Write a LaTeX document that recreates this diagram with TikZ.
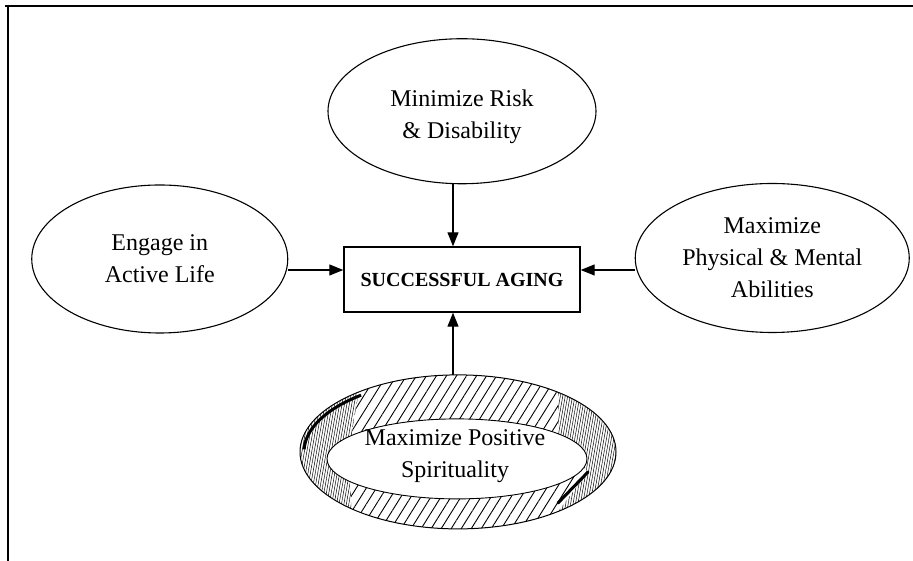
\documentclass[tikz,border=0pt]{standalone}
\usepackage{fontspec}
\setmainfont{Liberation Serif}
\usetikzlibrary{positioning,shapes.geometric,arrows.meta,patterns.meta}

\tikzset{
  goal/.style={draw, ellipse, line width=1.1pt, inner sep=0pt, align=center, font=\fontsize{24}{32}\selectfont},
  core/.style={draw, rectangle, line width=1.4pt, minimum width=236pt, minimum height=65pt, font=\fontsize{20}{24}\selectfont\bfseries},
  arr/.style={line width=1.1pt, -{Triangle[length=14pt,width=11pt]}},
  hatch/.style={pattern={Lines[angle=58,distance=8.5pt,line width=0.9pt]}},
  densehatch/.style={pattern={Lines[angle=80,distance=2.4pt,line width=0.5pt]}},
}

\begin{document}
\begin{tikzpicture}[x=1pt,y=1pt]
    \useasboundingbox (0,0) rectangle (913,561);
    % frame
    \draw[line width=1.6pt] (5,555) -- (915,555);
    \draw[line width=1.2pt] (8,-2) -- (8,555);

    \node[core] (aging) at (462,281.5) {SUCCESSFUL AGING};
    \node[goal, minimum width=268pt, minimum height=145pt, above=62pt of aging] (risk) {\rule{0pt}{28pt}Minimize Risk\\\& Disability};
    \node[goal, minimum width=256pt, minimum height=148pt, left=55pt of aging, yshift=20.5pt] (life) {Engage in\\Active Life};
    \node[goal, minimum width=274pt, minimum height=149pt, right=54pt of aging, yshift=21.5pt] (abil) {Maximize\\Physical \& Mental\\Abilities};

    % twisted band
    \node[ellipse, minimum width=316pt, minimum height=154pt, inner sep=0pt, below=62pt of aging, xshift=-4pt] (spirit) {};
    \node[ellipse, minimum width=260pt, minimum height=80pt, inner sep=0pt] (hole) at ([xshift=-1pt,yshift=-7pt]spirit.center) {};
    \path[hatch, even odd rule] (spirit.center) ellipse [x radius=158, y radius=77] (hole.center) ellipse [x radius=130, y radius=40];
    \begin{scope}[even odd rule]
        \clip (spirit.center) ellipse [x radius=158, y radius=77] (hole.center) ellipse [x radius=130, y radius=40];
        \fill[white] (558,200) -- (640,200) -- (640,20) -- (536,20) -- (588,89) -- (558,118) -- cycle;
        \path[densehatch] (558,200) -- (640,200) -- (640,20) -- (536,20) -- (588,89) -- (558,118) -- cycle;
        \fill[white] (364,200) -- (280,200) -- (280,20) -- (352,20) -- (350,100) -- (352,130) -- cycle;
        \path[densehatch] (364,200) -- (280,200) -- (280,20) -- (352,20) -- (350,100) -- (352,130) -- cycle;
        \draw[line width=3pt, line cap=round] (588,89) -- (558,58);
        \draw[line width=3pt] ([shift={(129:154 and 73)}]spirit.center) arc[start angle=129, end angle=178, x radius=154, y radius=73];
    \end{scope}
    \draw[line width=1pt] (spirit.center) ellipse [x radius=158, y radius=77];
    \draw[line width=0.9pt] (hole.center) ellipse [x radius=130, y radius=40];
    \node[align=center, font=\fontsize{24}{32}\selectfont] (spirittext) at ([xshift=-3pt,yshift=-4.5pt]spirit.center) {Maximize Positive\\Spirituality};

    \draw[arr] ([xshift=-9pt]aging.north |- risk.south) -- ([xshift=-9pt]aging.north);
    \draw[arr] ([yshift=9.5pt]aging.west -| life.east) -- ([yshift=9.5pt]aging.west);
    \draw[arr] ([yshift=9.5pt]aging.east -| abil.west) -- ([yshift=9.5pt]aging.east);
    \draw[arr] ([xshift=-9pt]aging.south |- spirit.north) -- ([xshift=-9pt]aging.south);
\end{tikzpicture}
\end{document}
